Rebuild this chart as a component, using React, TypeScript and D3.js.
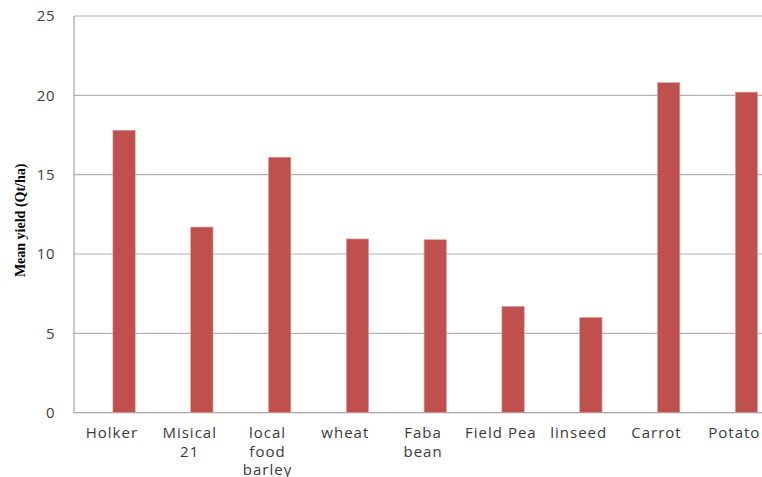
import React from "react";
import * as d3 from "d3";

// Mean yield per crop (Qt/ha)
const categories = ["Holker", "Misical 21", "local food barley", "wheat", "Faba bean", "Field Pea", "linseed", "Carrot", "Potato"];
const labelLines = [["Holker"], ["Misical", "21"], ["local", "food", "barley"], ["wheat"], ["Faba", "bean"], ["Field Pea"], ["linseed"], ["Carrot"], ["Potato"]];
const yields = [17.8, 11.7, 16.1, 10.95, 10.9, 6.7, 6.0, 20.8, 20.2];
const yTicks = [0, 5, 10, 15, 20, 25];

const W = 762;
const H = 477;
const left = 74;
const top = 16;
const bottom = 412.7;
const band = 77.8;

export default function App() {
  const x = d3.scaleBand<string>().domain(categories).range([left, left + band * categories.length]).padding(0);
  const y = d3.scaleLinear().domain([0, 25]).range([bottom, top]);
  const bw = x.bandwidth();
  const barW = bw * 0.287;
  const font = "'Open Sans', sans-serif";

  return (
    <svg width={W} height={H} style={{ position: "absolute", left: 0, top: 0, background: "#fff" }}>
      {yTicks.map((t) => (
        <g key={t}>
          <line x1={left} x2={W} y1={y(t)} y2={y(t)} stroke={t === 0 ? "#a6a6a6" : "#b3b3b3"} strokeWidth={1.2} />
          <text x={55} y={y(t)} dy="0.36em" textAnchor="end" fontFamily={font} fontSize={15} letterSpacing={0.5} fill="#404040">
            {t}
          </text>
        </g>
      ))}
      <line x1={left} x2={left} y1={top} y2={bottom} stroke="#a6a6a6" strokeWidth={1.2} />
      {categories.map((c, i) => (
        <rect
          key={c}
          x={(x(c) as number) + bw / 2}
          y={y(yields[i])}
          width={barW}
          height={bottom - y(yields[i])}
          fill="#C0504D"
          stroke="#d9a3a1"
          strokeWidth={0.6}
        />
      ))}
      {categories.map((c, i) => (
        <text key={c} textAnchor="middle" fontFamily={font} fontSize={15} letterSpacing={1} fill="#3a3a3a">
          {labelLines[i].map((ln, j) => (
            <tspan key={j} x={(x(c) as number) + bw / 2 - 1} y={438.3 + j * 18.4}>
              {ln}
            </tspan>
          ))}
        </text>
      ))}
      <text
        transform={`translate(24.5,${(top + bottom) / 2 + 6}) rotate(-90)`}
        textAnchor="middle"
        fontFamily="'Liberation Serif', 'Times New Roman', serif"
        fontWeight="bold"
        fontSize={14}
        fill="#000"
      >
        Mean yield (Qt/ha)
      </text>
    </svg>
  );
}
